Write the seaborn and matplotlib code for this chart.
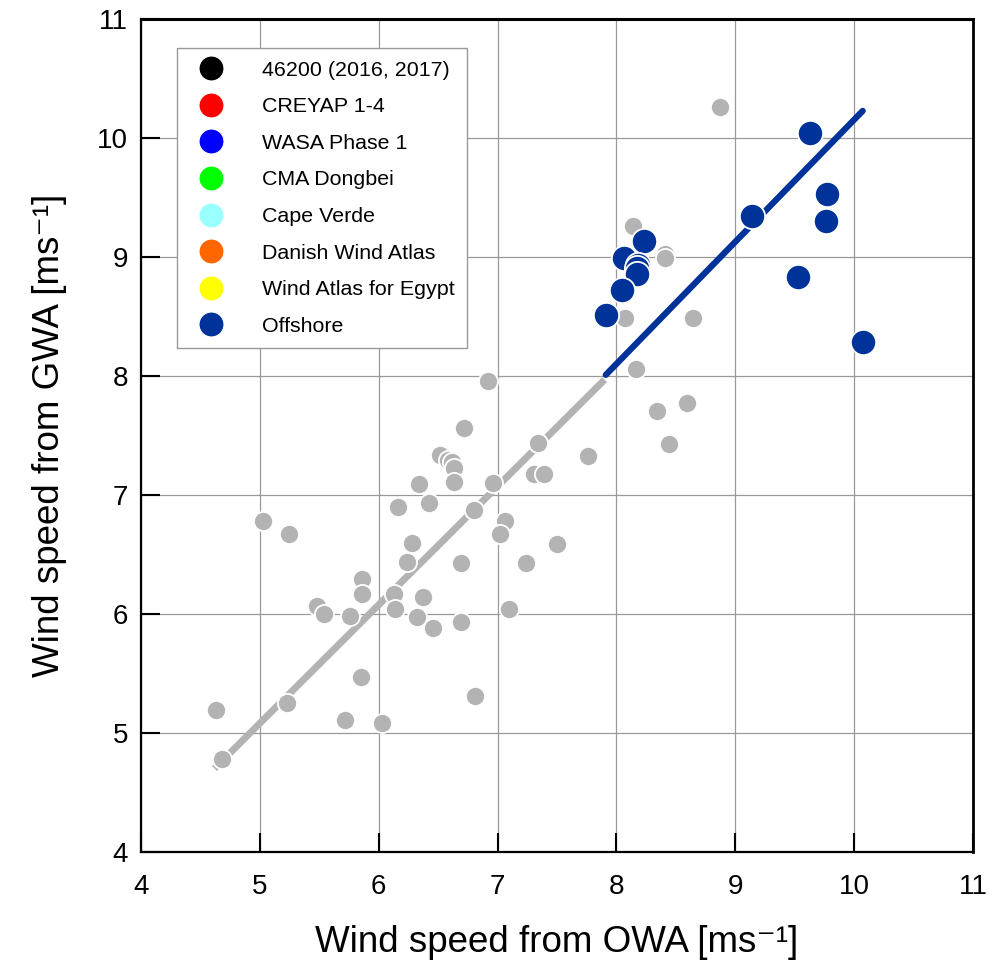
import matplotlib
matplotlib.use("Agg")
import matplotlib.pyplot as plt
from matplotlib.lines import Line2D
import seaborn as sns
import pandas as pd

# ---- data ----
onshore_x = [8.87, 8.14, 8.41, 8.41, 8.07, 8.64, 8.16, 8.59, 8.34, 8.44, 7.76,
             6.92, 6.72, 6.52, 6.58, 6.62, 6.63, 7.34, 7.31, 7.39, 6.34, 6.63,
             6.96, 6.16, 6.42, 6.80, 7.06, 7.02, 7.50, 5.03, 5.25, 6.28, 6.24,
             6.69, 7.24, 5.86, 5.86, 6.13, 6.37, 5.48, 5.54, 5.76, 6.14, 6.32,
             6.46, 6.69, 7.10, 5.85, 6.81, 5.23, 5.72, 6.03, 4.63, 4.68]
onshore_y = [10.26, 9.26, 9.03, 8.99, 8.49, 8.49, 8.06, 7.77, 7.71, 7.43, 7.33,
             7.96, 7.56, 7.34, 7.29, 7.28, 7.23, 7.44, 7.18, 7.18, 7.09, 7.11,
             7.10, 6.90, 6.93, 6.87, 6.78, 6.67, 6.59, 6.78, 6.67, 6.60, 6.44,
             6.43, 6.43, 6.29, 6.17, 6.17, 6.14, 6.07, 6.00, 5.98, 6.04, 5.97,
             5.88, 5.93, 6.04, 5.47, 5.31, 5.25, 5.11, 5.08, 5.19, 4.78]
offshore_x = [8.23, 8.06, 8.18, 8.17, 8.17, 8.05, 7.91, 9.63, 9.77, 9.14, 9.76, 9.53, 10.07]
offshore_y = [9.14, 8.99, 8.93, 8.91, 8.86, 8.72, 8.51, 10.04, 9.53, 9.35, 9.30, 8.83, 8.29]

fit_onshore_x = [4.62, 7.90]
fit_onshore_y = [4.70, 7.97]
fit_offshore_x = [7.91, 10.07]
fit_offshore_y = [8.01, 10.23]

legend_labels = ["46200 (2016, 2017)", "CREYAP 1-4", "WASA Phase 1", "CMA Dongbei",
                 "Cape Verde", "Danish Wind Atlas", "Wind Atlas for Egypt", "Offshore"]
legend_colors = ["#000000", "#ff0000", "#0000ff", "#00ff00",
                 "#99ffff", "#ff6600", "#ffff00", "#003399"]

ticks = [4, 5, 6, 7, 8, 9, 10, 11]

GRAY = "#b3b3b3"
OFF = "#003399"

sns.set_theme(style="white")
plt.rcParams['font.family'] = ['Liberation Sans', 'DejaVu Sans']

fig = plt.figure(figsize=(10.08, 9.66), dpi=100)
ax = fig.add_axes([0.1396, 0.1183, 0.8260, 0.8617])

on_df = pd.DataFrame({"x": onshore_x, "y": onshore_y})
off_df = pd.DataFrame({"x": offshore_x, "y": offshore_y})

ax.plot(fit_onshore_x, fit_onshore_y, color=GRAY, lw=5, solid_capstyle='butt', zorder=2)
sns.scatterplot(data=on_df, x="x", y="y", ax=ax, color=GRAY, s=190,
                edgecolor="white", linewidth=1.3, zorder=3, legend=False)
ax.plot(fit_offshore_x, fit_offshore_y, color=OFF, lw=4.5, solid_capstyle='round', zorder=4)
sns.scatterplot(data=off_df, x="x", y="y", ax=ax, color=OFF, s=330,
                edgecolor="white", linewidth=1.3, zorder=5, legend=False)

ax.set_xlim(4, 11)
ax.set_ylim(4, 11)
ax.set_xticks(ticks)
ax.set_yticks(ticks)
ax.set_xticklabels([str(t) for t in ticks], fontsize=20)
ax.set_yticklabels([str(t) for t in ticks], fontsize=20)
ax.grid(True, color="#999999", lw=0.9)
ax.set_axisbelow(True)
ax.tick_params(direction='in', length=14, width=1.5, colors='black',
               bottom=True, left=True, top=False, right=False)
ax.tick_params(axis='x', pad=16)
ax.tick_params(axis='y', pad=9)
for side, sp in ax.spines.items():
    sp.set_color('black')
    sp.set_linewidth(1.6)
ax.spines['top'].set_linewidth(2.2)
ax.spines['right'].set_linewidth(2.0)

ax.set_xlabel("Wind speed from OWA [ms\u207b\u00b9]", fontsize=26.5, labelpad=18, color='black')
ax.set_ylabel("Wind speed from GWA [ms\u207b\u00b9]", fontsize=26.5, labelpad=22, color='black')

handles = [Line2D([0], [0], marker='o', linestyle='', markersize=18,
                  markerfacecolor=c, markeredgecolor='white', markeredgewidth=0.8)
           for c in legend_colors]
leg = ax.legend(handles, legend_labels, loc='upper left',
                bbox_to_anchor=(0.0436, 0.9655), borderaxespad=0,
                fontsize=15.4, frameon=True, fancybox=False, framealpha=1,
                edgecolor='#999999', labelspacing=0.82, handletextpad=1.4,
                borderpad=0.6, handlelength=1.95)
leg.get_frame().set_linewidth(1.0)
for t in leg.get_texts():
    t.set_color('black')

fig.savefig("out.png", dpi=100)
